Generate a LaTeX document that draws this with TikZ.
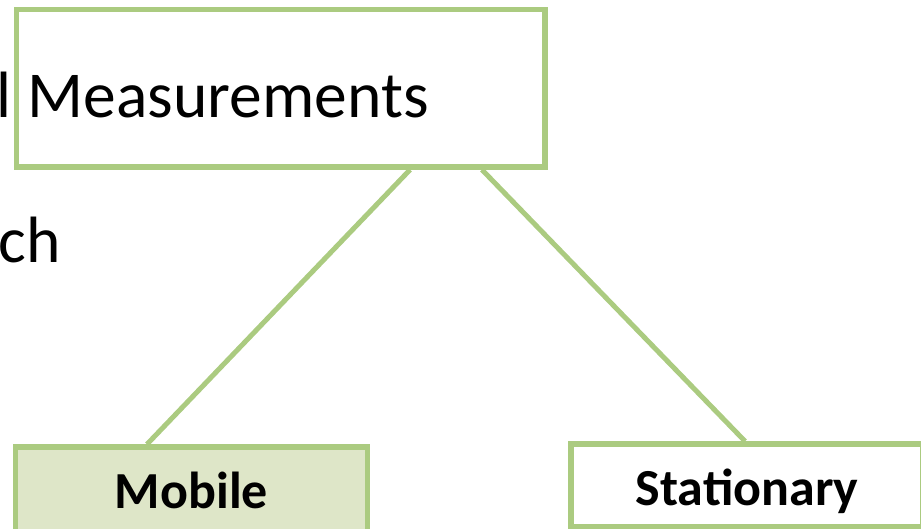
\documentclass[tikz,border=0pt]{standalone}
\usepackage{fontspec}
\setmainfont{Carlito}
\definecolor{bordergreen}{HTML}{ABCB80}
\definecolor{fillgreen}{HTML}{DEE6C8}
\begin{document}
\begin{tikzpicture}[x=1pt,y=-1pt,
  box/.style={draw=bordergreen,line width=5.5pt,rectangle,inner sep=0pt},
  leaf/.style={box,minimum width=352pt,font=\fontsize{52}{60}\selectfont\bfseries,text depth=0pt},
  link/.style={draw=bordergreen,line width=5pt},
  bigtext/.style={font=\fontsize{65.5}{78}\selectfont,inner sep=0pt}]
\useasboundingbox (0,0) rectangle (921,528);
\clip (0,0) rectangle (921,528);
\node[box,fill=white,minimum width=528.5pt,minimum height=157.5pt] (top) at (280.75,88.25) {};
\node[bigtext,anchor=base east] (title) at (429,117) {l\hspace{1.5pt} Measurements};
\node[bigtext,anchor=base east] (side) at (61,262) {ch};
\node[leaf,fill=fillgreen,minimum height=90pt,text height=33pt] (mob) at (191.5,492) {Mobile};
\node[leaf,fill=white,minimum height=83pt,text height=40pt] (stat) at (747,485.5) {Stationary};
\draw[link] ([xshift=129.25pt]top.south) -- ([xshift=-44.5pt]mob.north);
\draw[link] ([xshift=201.25pt]top.south) -- ([xshift=-2pt]stat.north);
\end{tikzpicture}
\end{document}
